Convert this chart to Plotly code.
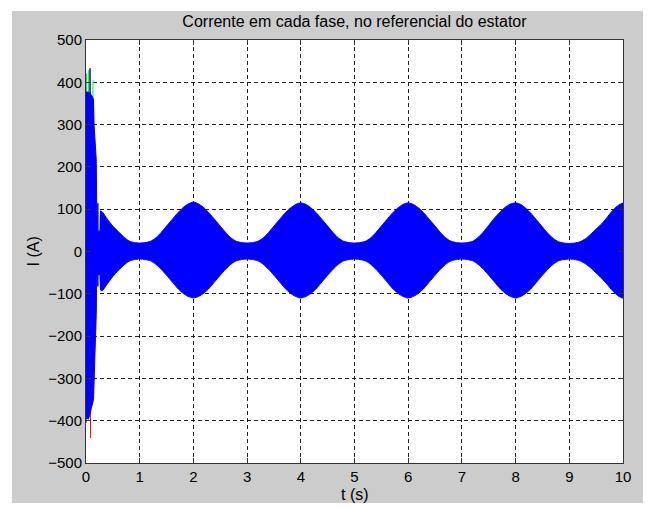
import plotly.graph_objects as go

# ---- steady-state envelope of the phase currents (A) ----
t_env = [0.27, 0.30, 0.40, 0.50, 0.60, 0.70, 0.80, 0.90,
         1.00, 1.10, 1.20, 1.30, 1.40, 1.50, 1.60, 1.70, 1.80, 1.90,
         2.00, 2.10, 2.20, 2.30, 2.40, 2.50, 2.60, 2.70, 2.80, 2.90,
         3.00, 3.10, 3.20, 3.30, 3.40, 3.50, 3.60, 3.70, 3.80, 3.90,
         4.00, 4.10, 4.20, 4.30, 4.40, 4.50, 4.60, 4.70, 4.80, 4.90,
         5.00, 5.10, 5.20, 5.30, 5.40, 5.50, 5.60, 5.70, 5.80, 5.90,
         6.00, 6.10, 6.20, 6.30, 6.40, 6.50, 6.60, 6.70, 6.80, 6.90,
         7.00, 7.10, 7.20, 7.30, 7.40, 7.50, 7.60, 7.70, 7.80, 7.90,
         8.00, 8.10, 8.20, 8.30, 8.40, 8.50, 8.60, 8.70, 8.80, 8.90,
         9.00, 9.10, 9.20, 9.30, 9.40, 9.50, 9.60, 9.70, 9.80, 9.90,
         10.00]
i_upper = [96, 94, 76, 60, 47, 35, 25, 21,
           20, 21, 24, 32, 45, 60, 75, 90, 103, 112,
           117, 112, 103, 90, 75, 60, 45, 32, 24, 21,
           20, 21, 24, 32, 45, 60, 75, 90, 102, 111,
           115, 111, 102, 90, 75, 60, 45, 32, 24, 21,
           20, 21, 24, 32, 45, 60, 75, 90, 102, 111,
           115, 111, 102, 90, 75, 60, 45, 32, 24, 21,
           20, 21, 24, 33, 46, 62, 78, 92, 104, 112,
           115, 111, 101, 88, 73, 58, 43, 31, 23, 20,
           19, 20, 23, 30, 41, 53, 65, 80, 96, 108,
           114]
i_lower = [-91, -93, -76, -59, -45, -33, -23, -19,
           -18, -19, -22, -30, -42, -56, -71, -86, -98, -106,
           -110, -106, -98, -86, -71, -56, -42, -30, -22, -19,
           -18, -19, -22, -30, -42, -56, -71, -86, -98, -106,
           -110, -106, -98, -86, -71, -56, -42, -30, -22, -19,
           -18, -19, -22, -30, -42, -56, -71, -86, -98, -106,
           -110, -106, -98, -86, -71, -56, -42, -30, -22, -19,
           -18, -19, -22, -30, -42, -56, -71, -86, -98, -106,
           -110, -106, -98, -86, -71, -56, -42, -30, -22, -19,
           -18, -19, -22, -29, -39, -51, -63, -77, -92, -104,
           -110]

# ---- start-up transient envelope (A) ----
t_tr = [0.00, 0.05, 0.10, 0.14, 0.15, 0.19, 0.20, 0.22, 0.26, 0.27]
tr_upper = [377, 377, 370, 360, 300, 220, 100, 48, 48, 96]
tr_lower = [-395, -395, -370, -350, -320, -150, -60, -55, -55, -91]

# ---- individual peaks of each phase during start-up (A) ----
red_t = [0.005, 0.085, 0.12, 0.17, 0.18, 0.19]
red_lo = [-405, -441, 256, 129, -185, 145]
red_hi = [-390, -370, 363, 157, -155, 175]

green_t = [0.01, 0.045, 0.05, 0.13, 0.17, 0.19]
green_lo = [365, 216, -398, 240, 129, -145]
green_hi = [421, 429, -327, 405, 176, -91]

blue_t = [0.075, 0.22]
blue_lo = [300, -83]
blue_hi = [433, 114]

BLUE = "#0000ff"
RED = "#ff0000"
GREEN = "#00ff00"


def spikes(ts, lo, hi):
    xs, ys = [], []
    for t, a, b in zip(ts, lo, hi):
        xs += [t, t, None]
        ys += [a, b, None]
    return xs, ys


fig = go.Figure()

# red and green phases sit underneath the blue one
for ts, lo, hi, col in [(red_t, red_lo, red_hi, RED),
                        (green_t, green_lo, green_hi, GREEN)]:
    xs, ys = spikes(ts, lo, hi)
    fig.add_trace(go.Scatter(x=xs, y=ys, mode="lines",
                             line=dict(color=col, width=1),
                             hoverinfo="skip", showlegend=False))

# blue phase: start-up band
fig.add_trace(go.Scatter(x=t_tr + t_tr[::-1], y=tr_upper + tr_lower[::-1],
                         mode="lines", fill="toself", fillcolor=BLUE,
                         line=dict(color=BLUE, width=1),
                         hoverinfo="skip", showlegend=False))

# blue phase: steady band
fig.add_trace(go.Scatter(x=t_env + t_env[::-1], y=i_upper + i_lower[::-1],
                         mode="lines", fill="toself", fillcolor=BLUE,
                         line=dict(color=BLUE, width=1, shape="spline", smoothing=0.6),
                         hoverinfo="skip", showlegend=False))

xs, ys = spikes(blue_t, blue_lo, blue_hi)
fig.add_trace(go.Scatter(x=xs, y=ys, mode="lines",
                         line=dict(color=BLUE, width=1.5),
                         hoverinfo="skip", showlegend=False))

FONT = "Liberation Sans, Arial, sans-serif"
axis_common = dict(
    showgrid=True, gridcolor="#222222", griddash="4px,3px", gridwidth=1,
    zeroline=False, showline=True, linecolor="#333333", linewidth=1,
    mirror="ticks", ticks="inside", ticklen=5, tickcolor="#333333",
    tickfont=dict(family=FONT, size=15, color="#000000"),
)

fig.update_layout(
    width=648, height=509,
    margin=dict(l=86, r=25, t=40, b=46),
    paper_bgcolor="#ffffff", plot_bgcolor="#ffffff",
    title=dict(text="Corrente em cada fase, no referencial do estator",
               x=0.547, xanchor="center", y=1 - 21 / 509, yanchor="middle",
               font=dict(family=FONT, size=16, color="#000000")),
    xaxis=dict(range=[0, 10], dtick=1, tick0=0, **axis_common),
    yaxis=dict(range=[-500, 500], dtick=100, tick0=0, **axis_common),
    shapes=[
        dict(type="rect", xref="paper", yref="paper", layer="below",
             x0=(12 - 86) / 537, x1=(643 - 86) / 537,
             y0=-(503 - 463) / 423, y1=1 + (40 - 11) / 423,
             fillcolor="#cccccc", line=dict(width=0)),
        dict(type="rect", xref="paper", yref="paper", layer="below",
             x0=0, x1=1, y0=0, y1=1,
             fillcolor="#ffffff", line=dict(width=0)),
    ],
    annotations=[
        dict(text="t (s)", xref="paper", yref="paper", x=0.5, y=-(494 - 463) / 423,
             xanchor="center", yanchor="middle", showarrow=False,
             font=dict(family=FONT, size=16, color="#000000")),
        dict(text="I (A)", xref="paper", yref="paper", x=(33 - 86) / 537, y=0.5,
             xanchor="center", yanchor="middle", textangle=-90, showarrow=False,
             font=dict(family=FONT, size=16, color="#000000")),
    ],
)

fig.write_html("out.html")
